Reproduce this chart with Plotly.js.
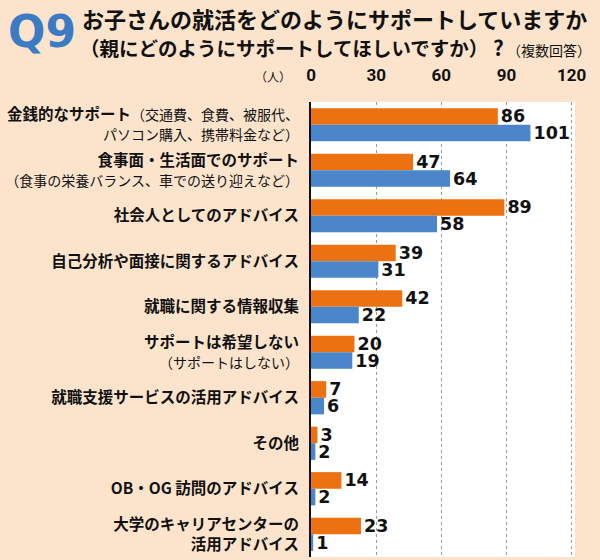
<!DOCTYPE html>
<html>
<head>
<meta charset="utf-8">
<script src="https://cdn.plot.ly/plotly-3.0.1.min.js"></script>
<style>html,body{margin:0;padding:0;background:#fce4cc;}#chart{width:600px;height:560px;}</style>
</head>
<body>
<div id="chart"></div>
<script>
const categories = [
  '金銭的なサポート', '食事面・生活面でのサポート', '社会人としてのアドバイス',
  '自己分析や面接に関するアドバイス', '就職に関する情報収集', 'サポートは希望しない',
  '就職支援サービスの活用アドバイス', 'その他', 'OB・OG訪問のアドバイス', '大学のキャリアセンターの活用アドバイス'
];
const tickLabels = [
  '<b>金銭的なサポート</b><span style="font-size:14px">（交通費、食費、被服代、</span><br><span style="font-size:14px">パソコン購入、携帯料金など）</span>',
  '<b>食事面・生活面でのサポート</b><br><span style="font-size:14px">（食事の栄養バランス、車での送り迎えなど）</span>',
  '<b>社会人としてのアドバイス</b>',
  '<b>自己分析や面接に関するアドバイス</b>',
  '<b>就職に関する情報収集</b>',
  '<b>サポートは希望しない</b><br><span style="font-size:14px">（サポートはしない）</span>',
  '<b>就職支援サービスの活用アドバイス</b>',
  '<b>その他</b>',
  '<b>OB・OG 訪問のアドバイス</b>',
  '<b>大学のキャリアセンターの</b><br><b>活用アドバイス</b>'
];
const parentValues = [86, 47, 89, 39, 42, 20, 7, 3, 14, 23];
const studentValues = [101, 64, 58, 31, 22, 19, 6, 2, 2, 1];
const xTicks = [0, 30, 60, 90, 120];

const L = 311, R = 25, T = 102, B = 3, W = 600, H = 560;
const pw = W - L - R, ph = H - T - B;
const px = x => (x - L) / pw;
const py = y => (H - B - y) / ph;

const valueFont = {family: 'DejaVu Sans, sans-serif', size: 17.5, color: '#111', weight: 'bold'};

const traces = [
  {type: 'bar', orientation: 'h', name: '親', y: categories, x: parentValues,
   marker: {color: '#ec7211'}, text: parentValues.map(v => '<b>' + v + '</b>'),
   textposition: 'outside', textfont: valueFont, cliponaxis: false, constraintext: 'none'},
  {type: 'bar', orientation: 'h', name: '子', y: categories, x: studentValues,
   marker: {color: '#4a86c9'}, text: studentValues.map(v => '<b>' + v + '</b>'),
   textposition: 'outside', textfont: valueFont, cliponaxis: false, constraintext: 'none'}
];

const layout = {
  width: W, height: H,
  margin: {l: L, r: R, t: T, b: B, pad: 0},
  paper_bgcolor: '#fce4cc', plot_bgcolor: '#ffffff',
  barmode: 'group', bargap: 0.27, bargroupgap: 0,
  showlegend: false,
  font: {family: '"Noto Sans CJK JP", sans-serif', color: '#111'},
  xaxis: {
    side: 'top', range: [0, 121.5], tickvals: xTicks, ticktext: xTicks.map(String),
    showgrid: true, gridcolor: '#9a9a9a', griddash: 'dot', gridwidth: 1,
    zeroline: false, showline: false, ticks: '', ticklabelstandoff: 17,
    tickfont: {family: '"Liberation Sans Narrow", "Roboto", sans-serif', size: 17, color: '#111', weight: 'bold'}
  },
  yaxis: {
    type: 'category', autorange: 'reversed', tickvals: categories, ticktext: tickLabels,
    showline: true, linecolor: '#111', linewidth: 2, showgrid: false, ticks: '',
    ticklabelstandoff: 7,
    tickfont: {family: '"Noto Sans CJK JP", sans-serif', size: 15.5, color: '#111'}
  },
  annotations: [
    {xref: 'paper', yref: 'paper', x: px(6), y: py(31), xanchor: 'left', yanchor: 'middle', showarrow: false,
     text: '<b>Q9</b>', font: {family: 'DejaVu Sans, sans-serif', size: 44, color: '#3b7bc4'}},
    {xref: 'paper', yref: 'paper', x: px(80), y: py(18), xanchor: 'left', yanchor: 'middle', showarrow: false,
     text: '<b>お子さんの就活をどのようにサポートしていますか</b>',
     font: {family: '"Noto Sans CJK JP", sans-serif', size: 22, color: '#111'}},
    {xref: 'paper', yref: 'paper', x: px(78), y: py(47), xanchor: 'left', yanchor: 'middle', showarrow: false,
     text: '<b>（親にどのようにサポートしてほしいですか）</b><b style="font-size:21px"> ?</b><span style="font-size:14px"> （複数回答）</span>',
     font: {family: '"Noto Sans CJK JP", sans-serif', size: 19.5, color: '#111'}},
    {xref: 'paper', yref: 'paper', x: px(293), y: py(76), xanchor: 'right', yanchor: 'middle', showarrow: false,
     text: '（人）', font: {family: '"Noto Sans CJK JP", sans-serif', size: 12, color: '#111'}}
  ]
};

Plotly.newPlot('chart', traces, layout, {displayModeBar: false, staticPlot: true});
</script>
</body>
</html>
